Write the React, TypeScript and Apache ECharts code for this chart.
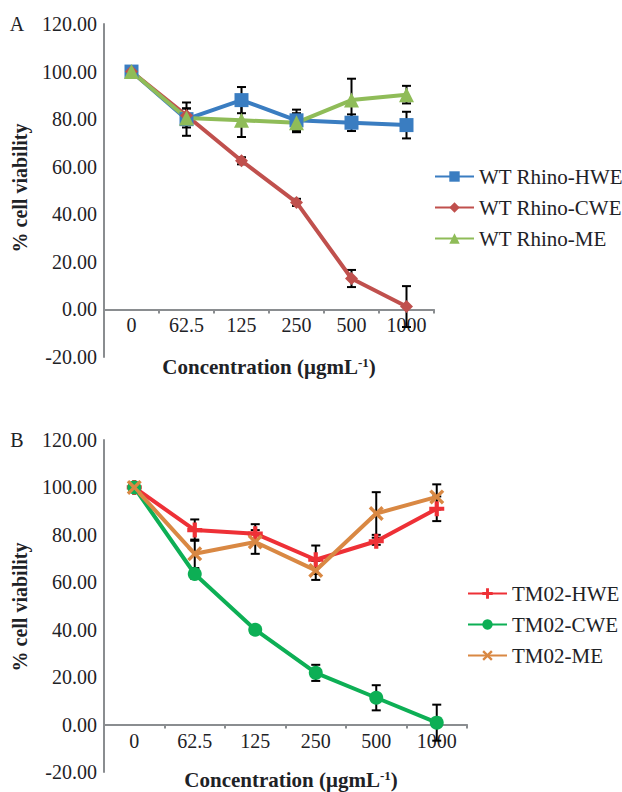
import React, { useEffect, useRef } from "react";
import * as echarts from "echarts";

const categories = ["0", "62.5", "125", "250", "500", "1000"];

const hweA = [100, 80, 88, 79.5, 78.5, 77.5];
const hweAErr = [0, 7, 5.5, 4.5, 3.5, 5.6];
const cweA = [100, 81.5, 62.5, 45, 13, 1.2];
const cweAErr = [0, 3, 1.5, 1.5, 3.6, 8.6];
const meA = [100, 80.5, 79.5, 78.5, 88, 90.3];
const meAErr = [0, 4, 7, 4, 9, 3.7];

const hweB = [100, 82, 80.5, 69.5, 77.3, 91];
const hweBErr = [0, 4.5, 4, 6, 1.5, 5.2];
const cweB = [100, 63.5, 40, 21.8, 11.3, 0.8];
const cweBErr = [0, 2, 1.5, 3.4, 5.3, 7.6];
const meB = [100, 72, 77, 65, 89, 96];
const meBErr = [0, 6, 5, 4, 9, 5.3];

const namesA = ["WT Rhino-HWE", "WT Rhino-CWE", "WT Rhino-ME"];
const namesB = ["TM02-HWE", "TM02-CWE", "TM02-ME"];

const FONT = "Liberation Serif";
const TXT = "#1e2226";

const PLUS = "path://M3.6,0H6.4V3.6H10V6.4H6.4V10H3.6V6.4H0V3.6H3.6Z";
const CROSS =
  "path://M0,1.6L1.6,0L5,3.4L8.4,0L10,1.6L6.6,5L10,8.4L8.4,10L5,6.6L1.6,10L0,8.4L3.4,5Z";

function errSeries(vals: number[], errs: number[], idx: number) {
  return {
    type: "custom",
    xAxisIndex: idx,
    yAxisIndex: idx,
    z: 1,
    silent: true,
    encode: { x: 0, y: 1 },
    data: vals.map((v, i) => [i, v, errs[i]]),
    renderItem: (params: any, api: any) => {
      const x = api.value(0);
      const v = api.value(1);
      const e = api.value(2);
      if (!e) return null;
      const t = api.coord([x, v + e]);
      const b = api.coord([x, v - e]);
      const hw = 4.5;
      const st = { stroke: "#000", lineWidth: 2 };
      return {
        type: "group",
        children: [
          { type: "line", shape: { x1: t[0], y1: t[1], x2: b[0], y2: b[1] }, style: st },
          { type: "line", shape: { x1: t[0] - hw, y1: t[1], x2: t[0] + hw, y2: t[1] }, style: st },
          { type: "line", shape: { x1: b[0] - hw, y1: b[1], x2: b[0] + hw, y2: b[1] }, style: st },
        ],
      };
    },
  };
}

function lineSeries(name: string, vals: number[], idx: number, color: string, symbol: string, size: number) {
  return {
    name,
    type: "line",
    xAxisIndex: idx,
    yAxisIndex: idx,
    z: 3,
    data: vals,
    symbol,
    symbolSize: size,
    lineStyle: { color, width: 4 },
    itemStyle: { color },
  };
}

function xAxis(idx: number, offset: number) {
  return {
    type: "category",
    gridIndex: idx,
    data: categories,
    boundaryGap: true,
    offset,
    axisLine: { onZero: false, lineStyle: { color: "#8a8d90", width: 2 } },
    axisTick: { show: true, length: 4, lineStyle: { color: "#8a8d90", width: 2 } },
    axisLabel: { color: TXT, fontFamily: FONT, fontSize: 20, margin: 6 },
    splitLine: { show: false },
  };
}

function yAxis(idx: number) {
  return {
    type: "value",
    gridIndex: idx,
    min: -20,
    max: 120,
    interval: 20,
    axisLine: { show: true, lineStyle: { color: "#8a8d90", width: 2 } },
    axisTick: { show: false },
    splitLine: { show: false },
    axisLabel: {
      color: TXT,
      fontFamily: FONT,
      fontSize: 20,
      margin: 7,
      formatter: (v: number) => v.toFixed(2),
    },
  };
}

function legend(names: string[], left: number, top: number) {
  return {
    data: names,
    orient: "vertical",
    left,
    top,
    itemWidth: 39,
    itemHeight: 13,
    itemGap: 10,
    textStyle: { color: TXT, fontFamily: FONT, fontSize: 21 },
    selectedMode: false,
  };
}

export default function App() {
  const ref = useRef<HTMLDivElement>(null);
  useEffect(() => {
    document.body.style.margin = "0";
    const chart = echarts.init(ref.current!, null, { renderer: "svg" });
    const xTitle = (y: number, cx: number) => ({
      type: "text",
      x: cx,
      y,
      style: {
        text: "{a|Concentration (μgmL}{s|-1}{a|)}",
        align: "center",
        verticalAlign: "middle",
        fontFamily: FONT,
        fontSize: 21,
        fontWeight: "bold",
        fill: TXT,
        rich: {
          a: { fontFamily: FONT, fontSize: 21, fontWeight: "bold", fill: TXT },
          s: {
            fontFamily: FONT,
            fontSize: 13,
            fontWeight: "bold",
            fill: TXT,
            padding: [0, 0, 10, 0],
          },
        },
      },
    });
    const yTitle = (cy: number) => ({
      type: "text",
      x: 20,
      y: cy,
      rotation: Math.PI / 2,
      style: {
        text: "% cell viability",
        align: "center",
        verticalAlign: "middle",
        fontFamily: FONT,
        fontSize: 20,
        fontWeight: "bold",
        fill: TXT,
      },
    });
    const letter = (t: string, y: number) => ({
      type: "text",
      x: 17,
      y,
      style: {
        text: t,
        align: "center",
        verticalAlign: "middle",
        fontFamily: FONT,
        fontSize: 20,
        fill: TXT,
      },
    });
    chart.setOption({
      animation: false,
      backgroundColor: "#fff",
      grid: [
        { left: 104, right: 188, top: 24, bottom: 435 },
        { left: 104, right: 155, top: 440, bottom: 20 },
      ],
      xAxis: [xAxis(0, -47.6), xAxis(1, -47.4)],
      yAxis: [yAxis(0), yAxis(1)],
      legend: [legend(namesA, 429, 161), legend(namesB, 462, 578)],
      graphic: [
        letter("A", 24),
        letter("B", 440),
        yTitle(188),
        yTitle(607),
        xTitle(367, 269),
        xTitle(780, 291),
      ],
      series: [
        errSeries(hweA, hweAErr, 0),
        errSeries(cweA, cweAErr, 0),
        errSeries(meA, meAErr, 0),
        lineSeries(namesA[0], hweA, 0, "#3a7dc1", "rect", 14),
        lineSeries(namesA[1], cweA, 0, "#c0504d", "diamond", 13),
        lineSeries(namesA[2], meA, 0, "#8fbc58", "triangle", 15),
        errSeries(hweB, hweBErr, 1),
        errSeries(cweB, cweBErr, 1),
        errSeries(meB, meBErr, 1),
        lineSeries(namesB[0], hweB, 1, "#ee3036", PLUS, 15),
        lineSeries(namesB[1], cweB, 1, "#0daf55", "circle", 14),
        lineSeries(namesB[2], meB, 1, "#d98843", CROSS, 15),
      ],
    });
    return () => chart.dispose();
  }, []);
  return <div ref={ref} style={{ width: 622, height: 792 }} />;
}
